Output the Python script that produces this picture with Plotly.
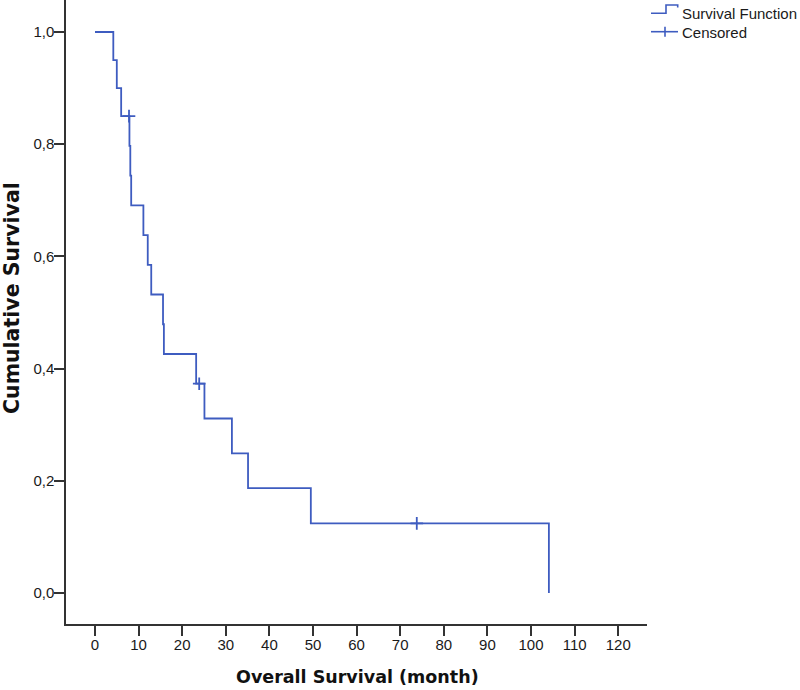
import plotly.graph_objects as go

# Kaplan-Meier step curve (time in months, cumulative survival)
step_time = [0, 4.2, 5.0, 6.0, 7.9, 8.1, 8.3, 11.1, 12.1, 12.9, 15.6, 15.8,
             23.2, 25.1, 31.4, 35.1, 49.5, 104.1]
step_surv = [1.0, 0.950, 0.900, 0.850, 0.797, 0.744, 0.691, 0.638, 0.585, 0.532,
             0.479, 0.426, 0.373, 0.311, 0.249, 0.187, 0.124, 0.0]

# Censored observations
cens_time = [7.8, 23.9, 73.8]
cens_surv = [0.850, 0.373, 0.124]

x_ticks = [0, 10, 20, 30, 40, 50, 60, 70, 80, 90, 100, 110, 120]
y_ticks = [0.0, 0.2, 0.4, 0.6, 0.8, 1.0]

legend_labels = ["Survival Function", "Censored"]
x_title = "Overall Survival (month)"
y_title = "Cumulative Survival"

line_color = "#3E5CC0"
axis_color = "#333333"
text_color = "#1a1a1a"

W, H = 800, 690
L, R, T, B = 66, 153, 0, 66
PW, PH = W - L - R, H - T - B


def px(xp):
    return (xp - L) / PW


def py(yp):
    return (H - B - yp) / PH


fig = go.Figure()
fig.add_trace(go.Scatter(
    x=step_time, y=step_surv, mode="lines", line_shape="hv",
    line=dict(color=line_color, width=1.8), name=legend_labels[0], showlegend=False))
fig.add_trace(go.Scatter(
    x=cens_time, y=cens_surv, mode="markers", name=legend_labels[1], showlegend=False,
    marker=dict(symbol="cross-thin-open", size=9,
                line=dict(color=line_color, width=1.8), color=line_color)))

shapes = [
    # legend: step icon
    dict(type="path", xref="paper", yref="paper",
         path=f"M {px(651)} {py(13.3)} L {px(666)} {py(13.3)} L {px(666)} {py(5)} "
              f"L {px(677.7)} {py(5)} L {px(677.7)} {py(7.5)}",
         line=dict(color=line_color, width=1.6)),
    # legend: censored icon
    dict(type="line", xref="paper", yref="paper", x0=px(651), x1=px(678),
         y0=py(31.7), y1=py(31.7), line=dict(color=line_color, width=1.6)),
    dict(type="line", xref="paper", yref="paper", x0=px(665), x1=px(665),
         y0=py(26.7), y1=py(36.7), line=dict(color=line_color, width=1.6)),
]

annotations = [
    dict(text=legend_labels[0], xref="paper", yref="paper", x=px(680), y=py(13),
         xanchor="left", yanchor="middle", showarrow=False,
         font=dict(family="Liberation Sans, Arial, sans-serif", size=15, color=text_color)),
    dict(text=legend_labels[1], xref="paper", yref="paper", x=px(680), y=py(32),
         xanchor="left", yanchor="middle", showarrow=False,
         font=dict(family="Liberation Sans, Arial, sans-serif", size=15, color=text_color)),
    dict(text=x_title, xref="paper", yref="paper", x=px(357), y=py(677),
         xanchor="center", yanchor="middle", showarrow=False,
         font=dict(family="DejaVu Sans, sans-serif", size=17.5, color="#111111",
                   weight="bold")),
    dict(text=y_title, xref="paper", yref="paper", x=px(12), y=py(298),
         xanchor="center", yanchor="middle", showarrow=False, textangle=-90,
         font=dict(family="DejaVu Sans, sans-serif", size=20.5, color="#111111",
                   weight="bold")),
]

fig.update_layout(
    width=W, height=H,
    margin=dict(l=L, r=R, t=T, b=B),
    paper_bgcolor="white", plot_bgcolor="white",
    separators=",.",
    font=dict(family="Liberation Sans, Arial, sans-serif", size=15, color=text_color),
    showlegend=False,
    shapes=shapes,
    annotations=annotations,
)
fig.update_xaxes(
    range=[-6.65, 126.6], tickvals=x_ticks, ticks="outside", ticklen=10, tickwidth=1.5,
    tickcolor=axis_color, showline=True, linecolor=axis_color, linewidth=1.5,
    showgrid=False, zeroline=False, automargin=False, ticklabelstandoff=-4)
fig.update_yaxes(
    range=[-0.0553, 1.057], tickvals=y_ticks, tickformat=".1f", ticks="outside",
    ticklen=10, tickwidth=1.5, tickcolor=axis_color, showline=True, linecolor=axis_color,
    linewidth=1.5, showgrid=False, zeroline=False, automargin=False, ticklabelstandoff=-3)

fig.write_html(
    "out.html",
    config={"displayModeBar": False},
    post_script="document.body.style.margin='0';document.body.style.overflow='hidden';",
)
